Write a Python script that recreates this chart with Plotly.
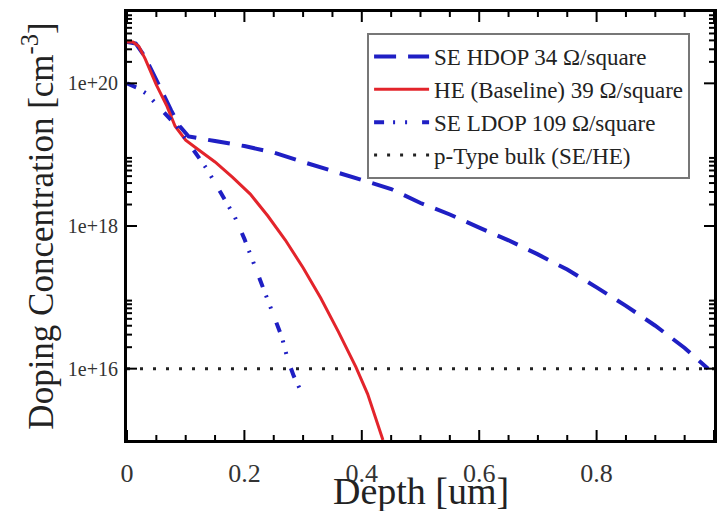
import plotly.graph_objects as go

# Depth profiles (um) and doping concentrations (cm^-3)
hdop_depth = [0.0, 0.015, 0.03, 0.045, 0.06, 0.075, 0.09, 0.105, 0.12, 0.15, 0.20, 0.25,
              0.30, 0.35, 0.40, 0.45, 0.50, 0.55, 0.60, 0.65, 0.70, 0.75, 0.80, 0.85,
              0.90, 0.95, 0.99]
hdop_conc = [3.8e20, 3.6e20, 2.4e20, 1.3e20, 7.6e19, 4.2e19, 2.5e19, 1.8e19, 1.7e19,
             1.55e19, 1.32e19, 1.07e19, 7.9e18, 5.9e18, 4.4e18, 3.3e18, 2.1e18, 1.45e18,
             9.5e17, 6.3e17, 4.0e17, 2.45e17, 1.38e17, 7.6e16, 4.0e16, 1.95e16, 1.0e16]

he_depth = [0.0, 0.01, 0.02, 0.031, 0.05, 0.068, 0.082, 0.10, 0.12, 0.15, 0.18, 0.21,
            0.24, 0.27, 0.30, 0.33, 0.36, 0.39, 0.41, 0.436]
he_conc = [3.8e20, 3.8e20, 3.3e20, 2.2e20, 9.5e19, 4.8e19, 2.5e19, 1.6e19, 1.2e19,
           7.9e18, 4.8e18, 2.8e18, 1.38e18, 6.3e17, 2.6e17, 9.8e16, 3.3e16, 1.05e16,
           4.4e15, 1.0e15]

ldop_depth = [0.0, 0.017, 0.034, 0.053, 0.07, 0.085, 0.10, 0.119, 0.136, 0.16, 0.184,
              0.20, 0.218, 0.235, 0.25, 0.264, 0.274, 0.284, 0.295]
ldop_conc = [1.0e20, 8.7e19, 7.1e19, 4.8e19, 3.3e19, 2.5e19, 1.66e19, 1.0e19, 6.3e18,
             2.9e18, 1.32e18, 6.6e17, 2.75e17, 1.2e17, 5.6e16, 2.75e16, 1.32e16, 7.9e15,
             5.1e15]

bulk_depth = [0.0, 1.0]
bulk_conc = [1.0e16, 1.0e16]

series_names = ["SE HDOP 34 \u03a9/square", "HE (Baseline) 39 \u03a9/square",
                "SE LDOP 109 \u03a9/square", "p-Type bulk (SE/HE)"]

x_ticks = [0, 0.2, 0.4, 0.6, 0.8, 1.0]
x_tick_text = ["0", "0.2", "0.4", "0.6", "0.8", "1"]
x_minor = [0.05, 0.1, 0.15, 0.25, 0.3, 0.35, 0.45, 0.5, 0.55, 0.65, 0.7, 0.75,
           0.85, 0.9, 0.95]
y_ticks = [1e16, 1e18, 1e20]
y_tick_text = ["1e+16", "1e+18", "1e+20"]
y_minor = [k * 10.0 ** d for d in (16, 18, 20) for k in range(2, 10)]

X_RANGE = [0, 1]
Y_RANGE = [15, 21]  # log10 of the concentration range

# Figure geometry
WIDTH, HEIGHT = 720, 511
MARGIN = dict(l=127, r=6, t=12, b=71)
PLOT_W = WIDTH - MARGIN["l"] - MARGIN["r"]
PLOT_H = HEIGHT - MARGIN["t"] - MARGIN["b"]
PX_PER_X = PLOT_W / (X_RANGE[1] - X_RANGE[0])
PX_PER_DECADE = PLOT_H / (Y_RANGE[1] - Y_RANGE[0])

BLUE = "#1f1fc4"
RED = "#e3242b"
FONT = "Liberation Serif"

fig = go.Figure()
fig.add_trace(go.Scatter(x=hdop_depth, y=hdop_conc, mode="lines", name=series_names[0],
                         line=dict(color=BLUE, width=4, dash="22px,12px")))
fig.add_trace(go.Scatter(x=he_depth, y=he_conc, mode="lines", name=series_names[1],
                         line=dict(color=RED, width=3)))
fig.add_trace(go.Scatter(x=ldop_depth, y=ldop_conc, mode="lines", name=series_names[2],
                         line=dict(color=BLUE, width=4,
                                   dash="10px,9px,2px,10px,2px,15px")))
fig.add_trace(go.Scatter(x=bulk_depth, y=bulk_conc, mode="lines", name=series_names[3],
                         line=dict(color="#222222", width=3, dash="3px,10px")))

# Inward frame ticks on all four edges (long = major, short = minor)
y_lo, y_hi = 10.0 ** Y_RANGE[0], 10.0 ** Y_RANGE[1]
tick_x, tick_y = [], []
for vals, length in ((x_ticks, 10), (x_minor, 5)):
    f = 10.0 ** (length / PX_PER_DECADE)
    for v in vals:
        tick_x += [v, v, None, v, v, None]
        tick_y += [y_lo, y_lo * f, None, y_hi, y_hi / f, None]
for vals, length in ((y_ticks, 10), (y_minor, 5)):
    dx = length / PX_PER_X
    for v in vals:
        tick_x += [X_RANGE[0], X_RANGE[0] + dx, None, X_RANGE[1], X_RANGE[1] - dx, None]
        tick_y += [v, v, None, v, v, None]
fig.add_trace(go.Scatter(x=tick_x, y=tick_y, mode="lines", showlegend=False,
                         hoverinfo="skip", line=dict(color="black", width=2)))

fig.update_layout(
    xaxis=dict(
        ticks="", showline=True, linecolor="black", linewidth=3, mirror=True,
        showgrid=False, zeroline=False,
        range=X_RANGE, tickmode="array", tickvals=x_ticks, ticktext=x_tick_text,
        tickfont=dict(family=FONT, size=26, color="#333333"),
        ticklabelstandoff=8,
    ),
    yaxis=dict(
        ticks="", showline=True, linecolor="black", linewidth=3, mirror=True,
        showgrid=False, zeroline=False,
        type="log", range=Y_RANGE, tickmode="array", tickvals=y_ticks,
        ticktext=y_tick_text,
        tickfont=dict(family=FONT, size=20, color="#333333"),
        title=dict(text="Doping Concentration [cm<sup>-3</sup>]",
                   font=dict(family=FONT, size=35, color="#222222"), standoff=4),
        ticklabelstandoff=2,
    ),
)

# x-axis title placed just under the tick labels
fig.add_annotation(
    text="Depth [um]", xref="paper", yref="paper", x=0.5, y=0,
    xanchor="center", yanchor="top", yshift=-28, showarrow=False,
    font=dict(family=FONT, size=38, color="#222222"),
)

fig.update_layout(
    width=WIDTH, height=HEIGHT,
    margin=dict(**MARGIN, autoexpand=False),
    paper_bgcolor="white", plot_bgcolor="white",
    font=dict(family=FONT, color="#222222"),
    showlegend=True,
    legend=dict(
        x=0.409, y=0.951, xanchor="left", yanchor="top",
        bgcolor="white", bordercolor="#777777", borderwidth=2,
        font=dict(family=FONT, size=23, color="#222222"),
        itemwidth=55, tracegroupgap=0,
    ),
)

fig.write_html("out.html")
